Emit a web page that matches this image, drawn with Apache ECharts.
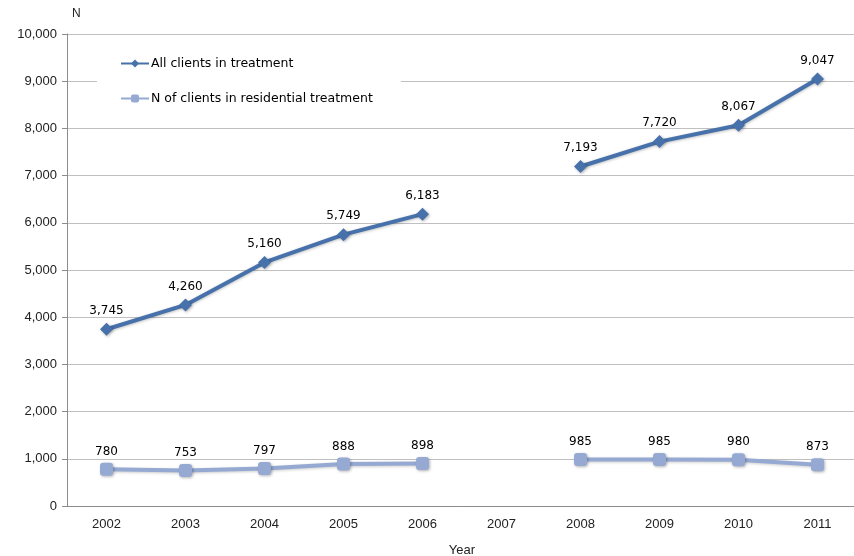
<!DOCTYPE html>
<html>
<head>
<meta charset="utf-8">
<script src="https://cdn.jsdelivr.net/npm/echarts@6/dist/echarts.min.js"></script>
<style>
  html, body { margin: 0; padding: 0; background: #fff; }
  #chart { width: 854px; height: 556px; }
</style>
</head>
<body>
<div id="chart"></div>
<script>
// Years on the category axis (2007 has no data)
const years = ['2002', '2003', '2004', '2005', '2006', '2007', '2008', '2009', '2010', '2011'];
// Clients in treatment, all settings
const allClients = [3745, 4260, 5160, 5749, 6183, null, 7193, 7720, 8067, 9047];
// Clients in residential treatment
const residentialClients = [780, 753, 797, 888, 898, null, 985, 985, 980, 873];
// Value axis settings
const yMin = 0, yMax = 10000, yStep = 1000;

const darkBlue = '#4771aa';
const lightBlue = '#95a9d3';
const axisFont = '"Liberation Sans", Arial, sans-serif';
const labelFont = '"DejaVu Sans", Verdana, sans-serif';

const fmt = v => v.toLocaleString('en-US');

const chart = echarts.init(document.getElementById('chart'), null, { renderer: 'canvas' });
chart.setOption({
  animation: false,
  backgroundColor: '#fff',
  grid: { left: 67, top: 34, width: 790, height: 472, containLabel: false, outerBoundsMode: 'none' },
  legend: {
    orient: 'vertical',
    left: 97,
    top: 49,
    padding: [8, 28, 10, 23],
    backgroundColor: '#fff',
    itemWidth: 28,
    itemHeight: 10,
    itemGap: 22,
    textStyle: { fontFamily: labelFont, fontSize: 12.5, color: '#000', padding: [0, 0, 0, -3] },
    data: ['All clients in treatment', 'N of clients in residential treatment']
  },
  xAxis: {
    type: 'category',
    data: years,
    name: 'Year',
    nameLocation: 'middle',
    nameGap: 38,
    nameTextStyle: { fontFamily: axisFont, fontSize: 13, color: '#222' },
    axisLine: { lineStyle: { color: '#8c8c8c', width: 1 } },
    axisTick: { alignWithLabel: true, length: 5, lineStyle: { color: '#8c8c8c' } },
    axisLabel: { fontFamily: axisFont, fontSize: 13, color: '#222', margin: 12 }
  },
  yAxis: {
    type: 'value',
    min: yMin,
    max: yMax,
    interval: yStep,
    name: 'N',
    nameLocation: 'end',
    nameGap: 14,
    nameTextStyle: { fontFamily: axisFont, fontSize: 12, color: '#222', align: 'left', padding: [0, 0, 0, 5] },
    axisLine: { show: true, lineStyle: { color: '#8c8c8c', width: 1 } },
    axisTick: { show: true, length: 5, lineStyle: { color: '#8c8c8c' } },
    axisLabel: { fontFamily: axisFont, fontSize: 13, color: '#222', margin: 10, formatter: v => fmt(v) },
    splitLine: { show: true, lineStyle: { color: '#c0c0c0', width: 1 } }
  },
  series: [
    {
      name: 'All clients in treatment',
      type: 'line',
      data: allClients,
      connectNulls: false,
      symbol: 'diamond',
      symbolSize: 13,
      color: darkBlue,
      lineStyle: { width: 4, color: darkBlue, shadowColor: 'rgba(0,0,0,0.25)', shadowBlur: 3, shadowOffsetY: 1 },
      itemStyle: { color: darkBlue, shadowColor: 'rgba(0,0,0,0.3)', shadowBlur: 3, shadowOffsetX: 1, shadowOffsetY: 1 },
      label: {
        show: true, position: 'top', distance: 6,
        fontFamily: labelFont, fontSize: 12, color: '#000',
        formatter: p => fmt(p.value)
      },
      z: 3
    },
    {
      name: 'N of clients in residential treatment',
      type: 'line',
      data: residentialClients,
      connectNulls: false,
      symbol: 'roundRect',
      symbolSize: 13,
      color: lightBlue,
      lineStyle: { width: 4, color: lightBlue, shadowColor: 'rgba(0,0,0,0.2)', shadowBlur: 3, shadowOffsetY: 1 },
      itemStyle: { color: lightBlue, shadowColor: 'rgba(0,0,0,0.3)', shadowBlur: 3, shadowOffsetX: 1, shadowOffsetY: 1 },
      label: {
        show: true, position: 'top', distance: 5,
        fontFamily: labelFont, fontSize: 12, color: '#000',
        formatter: p => fmt(p.value)
      },
      z: 2
    }
  ]
});
</script>
</body>
</html>
